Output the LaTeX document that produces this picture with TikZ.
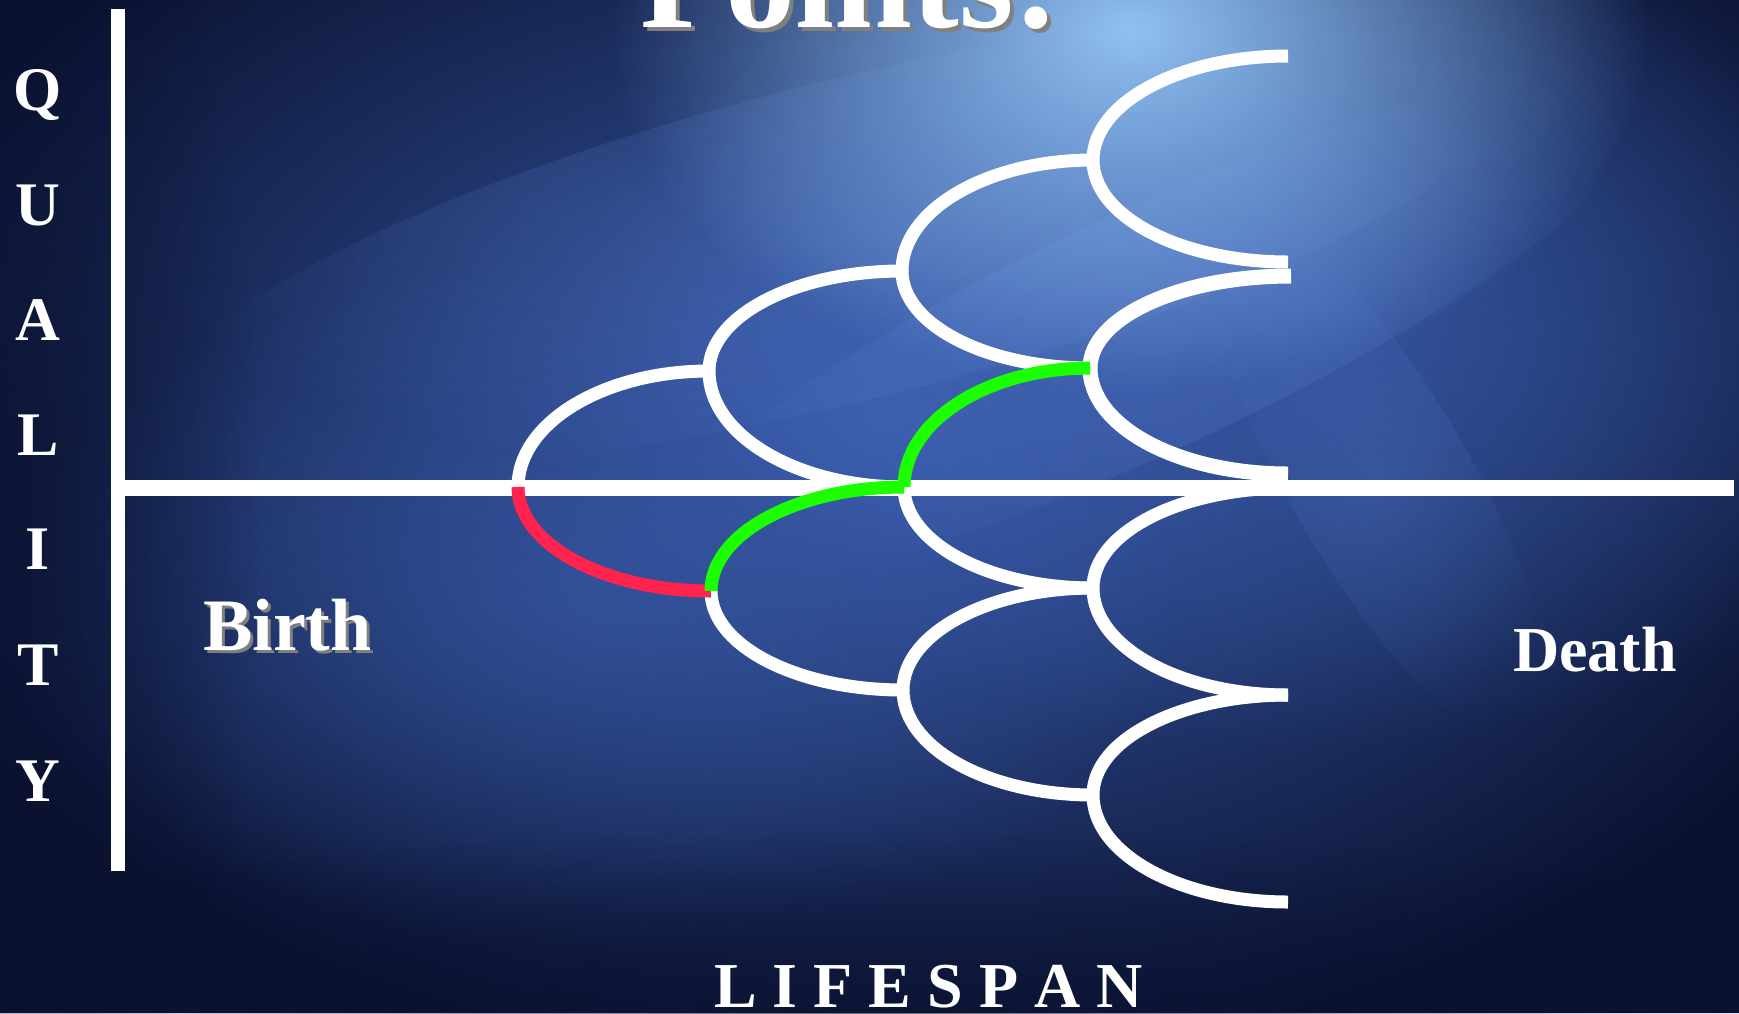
\documentclass[tikz,border=0pt]{standalone}
\usepackage{fontspec}
\setmainfont{Liberation Serif}
\usetikzlibrary{calc,fadings}
\definecolor{bgdark}{RGB}{10,18,48}
\definecolor{bgmid}{RGB}{58,92,172}
\definecolor{bglight}{RGB}{150,200,250}
\definecolor{streak}{RGB}{100,140,225}
\definecolor{lgreen}{RGB}{28,255,0}
\definecolor{lred}{RGB}{255,35,78}
\definecolor{shadowgray}{RGB}{128,128,128}
\tikzfading[name=glow, inner color=transparent!0, outer color=transparent!100]
\tikzset{
  axisline/.style={white, line width=15pt},
  whitearc/.style={white, line width=13pt},
  greenarc/.style={lgreen, line width=13pt},
  redarc/.style={lred, line width=13pt},
  lbl/.style={text=white, inner sep=0pt, anchor=base west, font=\bfseries},
}
\newcommand\lifearc[3]{\draw[#1] (#2) .. controls ($(#2)!0.5523!(#2|-#3)$) and ($(#3)!0.5523!(#2|-#3)$) .. (#3);}
\begin{document}
\begin{tikzpicture}[x=1pt,y=-1pt]
\clip (0,0) rectangle (1739,1013);
\useasboundingbox (0,0) rectangle (1739,1013);
% background
\fill[bgdark] (0,0) rectangle (1739,1013);
\fill[bgmid, path fading=glow] (880,420) ellipse (1050 and 650);
\fill[bgmid, path fading=glow, opacity=0.8] (1300,300) ellipse (700 and 450);
\fill[bgmid, path fading=glow, opacity=0.6] (600,600) ellipse (600 and 350);
\fill[streak, path fading=glow, opacity=0.3, rotate around={14:(850,240)}] (850,240) ellipse (700 and 160);
\fill[streak, path fading=glow, opacity=0.25, rotate around={25:(1150,330)}] (1150,330) ellipse (550 and 120);
\fill[streak, path fading=glow, opacity=0.2, rotate around={-60:(1380,480)}] (1380,480) ellipse (300 and 90);
\fill[bglight, path fading=glow, opacity=0.95] (1130,30) ellipse (520 and 360);
\fill[bgdark, path fading=glow, opacity=0.7] (0,500) ellipse (260 and 700);
\fill[bgdark, path fading=glow, opacity=0.6] (870,1013) ellipse (1100 and 180);

% title (cropped)
\node[lbl, text=shadowgray, font=\bfseries\fontsize{140}{150}\selectfont] at (644,31) {Points:};
\node[lbl, font=\bfseries\fontsize{140}{150}\selectfont] (title) at (640,27) {Points:};

% coordinates
\coordinate (A) at (518,487);
\coordinate (B1) at (709,371);
\coordinate (B2) at (711,591);
\coordinate (C1) at (902,271);
\coordinate (C2) at (904,487);
\coordinate (C3) at (903,690);
\coordinate (D1) at (1093,160);
\coordinate (D2) at (1090,368);
\coordinate (D3) at (1093,588);
\coordinate (D4) at (1093,795);
\coordinate (E1) at (1288,56);
\coordinate (E2) at (1288,262);
\coordinate (E2b) at (1291,276);
\coordinate (E3) at (1288,474);
\coordinate (E3b) at (1288,488);
\coordinate (E4) at (1288,695);
\coordinate (E5) at (1288,902);
\coordinate (yTop) at (118,9);
\coordinate (yBot) at (118,871);
\coordinate (xL) at (125,488);
\coordinate (xR) at (1734,488);

% axes
\draw[axisline, line width=14pt] (yTop) -- (yBot);
\draw[axisline, line width=16pt] (xL) -- (xR);

% white arcs
\lifearc{whitearc}{A}{B1}
\lifearc{whitearc}{B1}{C1}
\lifearc{whitearc}{B1}{C2}
\lifearc{whitearc}{B2}{C3}
\lifearc{whitearc}{C1}{D1}
\lifearc{whitearc}{C1}{D2}
\lifearc{whitearc}{C2}{D3}
\lifearc{whitearc}{C3}{D3}
\lifearc{whitearc}{C3}{D4}
\lifearc{whitearc}{D1}{E1}
\lifearc{whitearc}{D1}{E2}
\lifearc{whitearc, line width=15pt}{D2}{E2b}
\lifearc{whitearc, line width=15pt}{D2}{E3}
\lifearc{whitearc}{D3}{E3b}
\lifearc{whitearc}{D3}{E4}
\lifearc{whitearc}{D4}{E4}
\lifearc{whitearc}{D4}{E5}
% coloured arcs
\lifearc{redarc}{A}{B2}
\lifearc{greenarc}{B2}{C2}
\lifearc{greenarc}{C2}{D2}

% labels
\node[lbl, text=shadowgray, font=\bfseries\fontsize{74}{80}\selectfont] at (206,653) {Birth};
\node[lbl, font=\bfseries\fontsize{74}{80}\selectfont] (birth) at (203,650) {Birth};
\node[lbl, font=\bfseries\fontsize{64}{70}\selectfont] (death) at (1513,671) {Death};
\node[lbl, font=\bfseries\fontsize{64}{70}\selectfont] (lifespan) at (714,1007) {L I F E S P A N};

\tikzset{qlet/.style={text=white, inner sep=0pt, anchor=base, font=\bfseries\fontsize{62}{66}\selectfont}}
\node[qlet] (q1) at (38,110) {Q};
\node[qlet] (q2) at (38,225) {U};
\node[qlet] (q3) at (38,340) {A};
\node[qlet] (q4) at (38,455) {L};
\node[qlet] (q5) at (38,569) {I};
\node[qlet] (q6) at (38,685) {T};
\node[qlet] (q7) at (38,801) {Y};
\end{tikzpicture}
\end{document}
